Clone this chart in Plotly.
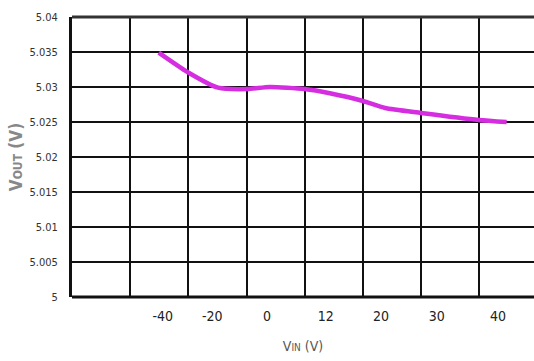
import plotly.graph_objects as go

# Data (x in grid-column units: gridlines at 0,1,2,...)
curve_x = [1.49, 1.99, 2.51, 3.01, 3.40, 4.00, 4.43, 5.00, 5.38, 6.00, 6.99, 7.47]
curve_y = [5.0349, 5.0321, 5.0299, 5.0297, 5.0300, 5.0297, 5.0291, 5.0280, 5.0270, 5.0263, 5.0253, 5.0250]

x_tick_pos = [1.56, 2.41, 3.35, 4.36, 5.31, 6.27, 7.32]
x_tick_labels = ["-40", "-20", "0", "12", "20", "30", "40"]

y_tick_vals = [5.0, 5.005, 5.01, 5.015, 5.02, 5.025, 5.03, 5.035, 5.04]
y_tick_labels = ["5", "5.005", "5.01", "5.015", "5.02", "5.025", "5.03", "5.035", "5.04"]

FONT = "Liberation Sans Narrow, DejaVu Sans Condensed, Arial Narrow, sans-serif"

fig = go.Figure()
fig.add_trace(go.Scatter(
    x=curve_x, y=curve_y, mode="lines",
    line=dict(color="#d42ee0", width=4.5, shape="spline", smoothing=0.6),
    showlegend=False, hoverinfo="skip",
))

fig.update_layout(
    width=534, height=361,
    margin=dict(l=72, r=0, t=17, b=64),
    paper_bgcolor="white", plot_bgcolor="white",
    font=dict(family=FONT, color="#333333"),
    xaxis=dict(
        range=[0, 7.94], tickmode="array", tickvals=x_tick_pos, ticktext=x_tick_labels,
        showgrid=False, zeroline=False, showline=False,
        ticks="outside", ticklen=6, tickcolor="rgba(0,0,0,0)",
        tickfont=dict(size=14, color="#222222"),
        minor=dict(tickmode="linear", tick0=0, dtick=1, showgrid=True,
                   gridcolor="#111111", gridwidth=2, ticks=""),
        title=dict(text="V<span style='font-size:10px'>IN</span> (V)",
                   font=dict(size=14, color="#555555"), standoff=18),
    ),
    yaxis=dict(
        range=[5.0, 5.04], tickmode="array", tickvals=y_tick_vals, ticktext=y_tick_labels,
        showgrid=True, gridcolor="#111111", gridwidth=2,
        zeroline=False, showline=True, linecolor="#111111", linewidth=3,
        ticks="outside", ticklen=9, tickcolor="rgba(0,0,0,0)",
        tickfont=dict(size=11, color="#333333"),
        title=dict(text="<b>V<span style='font-size:12px'>OUT</span> (V)</b>",
                   font=dict(size=17, color="#888888"), standoff=3),
    ),
)
fig.add_shape(type="line", xref="paper", yref="paper", x0=0, x1=1, y0=0, y1=0,
              line=dict(color="#111111", width=3))
fig.add_shape(type="line", xref="paper", yref="paper", x0=0, x1=1, y0=1, y1=1,
              line=dict(color="#333333", width=3))

fig.write_html("out.html")
